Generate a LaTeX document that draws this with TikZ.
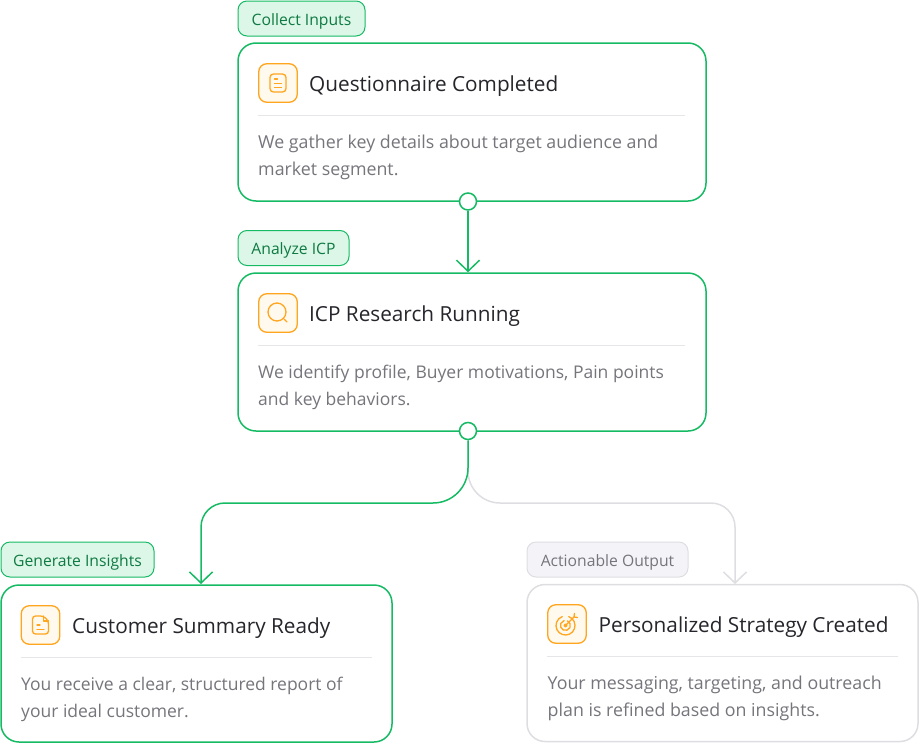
\documentclass[tikz,border=0pt]{standalone}
\usepackage{xcolor,fontspec}
\usetikzlibrary{arrows.meta}
\setmainfont{Open Sans}
\definecolor{myGreen}{RGB}{22, 186, 100}
\definecolor{myGreenFill}{RGB}{220, 246, 232}
\definecolor{myGreenText}{RGB}{15, 122, 66}
\definecolor{myGray}{RGB}{222, 222, 226}
\definecolor{myGrayFill}{RGB}{244, 243, 247}
\definecolor{myGrayText}{RGB}{118, 117, 124}
\definecolor{myOrange}{RGB}{255, 165, 30}
\definecolor{myOrangeFill}{RGB}{255, 249, 238}
\definecolor{myTitle}{RGB}{37, 37, 43}

\tikzset{
	card/.style={draw=myGreen, fill=white, line width=1.5pt, rounded corners=18pt, minimum width=468pt, minimum height=158pt, inner sep=0pt},
	cardsmall/.style={card, minimum width=391pt, minimum height=157pt},
	graycard/.style={cardsmall, draw=myGray},
	tag/.style={draw=myGreen, fill=myGreenFill, text=myGreenText, line width=1pt, rounded corners=9pt, minimum height=35pt, inner sep=0pt, text height=16pt, text depth=3pt, font=\fontsize{15.7}{18}\selectfont},
	graytag/.style={tag, draw=myGray, fill=myGrayFill, text=myGrayText},
	iconbox/.style={draw=myOrange, fill=myOrangeFill, line width=1.3pt, rounded corners=8pt, minimum size=38.5pt, inner sep=0pt},
	title/.style={anchor=west, inner sep=0pt, yshift=-2pt, text=myTitle, font=\fontsize{20.75}{24}\selectfont},
	body/.style={anchor=west, inner sep=0pt, yshift=-2pt, align=left, text=myGrayText, font=\fontsize{17.8}{27}\selectfont},
	bodytight/.style={body, font=\fontsize{17.5}{27}\selectfont},
	divider/.style={draw=myGray!75, line width=1pt},
	dot/.style={draw=myGreen, fill=white, circle, line width=1.5pt, minimum size=17pt, inner sep=0pt},
	flow/.style={draw=myGreen, line width=1.5pt, -{Straight Barb[length=11pt,width=23pt,line width=1.5pt]}},
	grayflow/.style={flow, draw=myGray},
	glyph/.style={draw=myOrange, line width=1.3pt, line cap=round, line join=round},
	docicon/.pic={
		\draw[glyph, rounded corners=3.5pt] (-8,-9) rectangle (8,9);
		\draw[glyph] (-3.5,-4) -- (-0.5,-4) (-3.5,0.5) -- (3.5,0.5) (-3.5,4.5) -- (3.5,4.5);
	},
	findicon/.pic={
		\draw[glyph] (-1,-1) circle (9);
		\draw[glyph] (6,6) -- (9,9);
	},
	fileicon/.pic={
		\draw[glyph, rounded corners=3pt] (-8,-9) -- (3,-9) -- (8,-4) -- (8,9) -- (-8,9) -- cycle;
		\draw[glyph] (3,-9) -- (3,-4) -- (8,-4);
		\draw[glyph] (-3.5,0) -- (-0.5,0) (-3.5,4.5) -- (3.5,4.5);
	},
	targeticon/.pic={
		\draw[glyph] (1.75,-7.43) arc (-70:250:9.5);
		\draw[glyph] (0.5,-3.1) arc (-65:255:5);
		\draw[glyph] (-1.5,1.5) circle (1.5);
		\draw[glyph] (-1.5,1.5) -- (7,-7);
		\draw[glyph] (7,-7) -- (7.5,-10.5) (7,-7) -- (10.5,-6.5);
	},
}

\begin{document}
\begin{tikzpicture}[x=1pt, y=-1pt]
	\useasboundingbox (0,0) rectangle (920,744);

	\draw (472,122) node[card] (cardA) {};
	\draw (472,352) node[card] (cardB) {};
	\draw (196.5,663.5) node[cardsmall] (cardC) {};
	\draw (722.5,663) node[graycard] (cardD) {};

	\draw (301.5,18.5) node[tag, minimum width=127pt] (tagA) {Collect Inputs};
	\draw (293.5,248) node[tag, minimum width=111pt] (tagB) {Analyze ICP};
	\draw (77.5,559.5) node[tag, minimum width=153pt] (tagC) {Generate Insights};
	\draw (607.5,559.5) node[graytag, minimum width=161pt] (tagD) {Actionable Output};

	\draw (278,83) node[iconbox] (iconA) {};
	\draw (278,313) node[iconbox] (iconB) {};
	\draw (40.5,625) node[iconbox] (iconC) {};
	\draw (567,624) node[iconbox] (iconD) {};
	\pic at (iconA) {docicon};
	\pic at (iconB) {findicon};
	\pic at (iconC) {fileicon};
	\pic at (iconD) {targeticon};

	\draw (309,84) node[title] (titleA) {Questionnaire Completed};
	\draw (309,314) node[title] (titleB) {ICP Research Running};
	\draw (72,626) node[title] (titleC) {Customer Summary Ready};
	\draw (598.5,625) node[title] (titleD) {Personalized Strategy Created};

	\draw[divider] (258,115) -- (685,115);
	\draw[divider] (258,345) -- (685,345);
	\draw[divider] (21,657) -- (372,657);
	\draw[divider] (547,656) -- (898,656);

	\draw (258,155.5) node[body] (bodyA) {We gather key details about target audience and\\market segment.};
	\draw (258,385) node[bodytight] (bodyB) {We identify profile, Buyer motivations, Pain points\\and key behaviors.};
	\draw (21,697) node[bodytight] (bodyC) {You receive a clear, structured report of\\your ideal customer.};
	\draw (547.5,696.5) node[body] (bodyD) {Your messaging, targeting, and outreach\\plan is refined based on insights.};

	\draw (468,201.5) node[dot] (dotA) {};
	\draw (468,431) node[dot] (dotB) {};
	\coordinate (tipC) at (201,584);
	\coordinate (tipD) at (735,584);

	% gray branch goes under the green one
	\draw[grayflow] (dotB.south) -- (468,471) arc (180:90:32) -- (711,503) arc (-90:0:24) -- (tipD);
	\draw[flow] (dotA.south) -- (cardB.north -| dotA);
	\draw[flow] (dotB.south) -- (468,468) arc (0:90:35) -- (225,503) arc (-90:-180:24) -- (tipC);
\end{tikzpicture}
\end{document}
